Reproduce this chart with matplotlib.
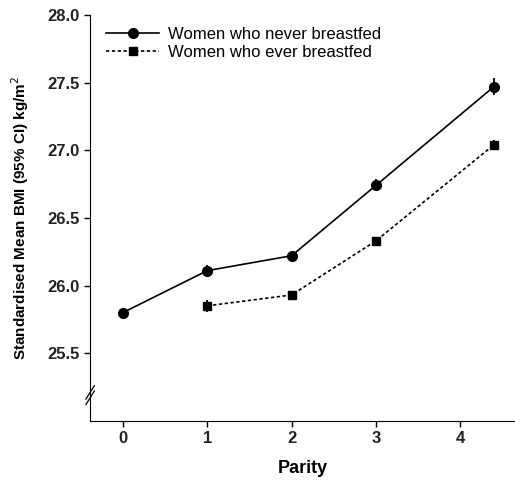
import numpy as np
from matplotlib import pyplot as plt
from matplotlib.lines import Line2D

plt.rcParams['font.family'] = ['Liberation Sans', 'DejaVu Sans']

# parity positions (last group is 4+ plotted at 4.4)
x_never = [0, 1, 2, 3, 4.4]
bmi_never = [25.80, 26.11, 26.22, 26.74, 27.47]
err_never = [0.01, 0.04, 0.02, 0.045, 0.065]

x_ever = [1, 2, 3, 4.4]
bmi_ever = [25.85, 25.93, 26.33, 27.04]
err_ever = [0.045, 0.02, 0.02, 0.035]

xticks = [0, 1, 2, 3, 4]
yticks = [25.5, 26.0, 26.5, 27.0, 27.5, 28.0]

dash = (0, (2, 1.5))

fig = plt.figure(figsize=(5.15, 4.82), dpi=100)
ax = fig.add_axes([0.175, 0.127, 0.825, 0.842])

ax.errorbar(x_never, bmi_never, yerr=err_never, color='black', marker='o',
            markersize=7, linestyle='-', linewidth=1.2, elinewidth=1.3,
            capsize=0)
ax.errorbar(x_ever, bmi_ever, yerr=err_ever, color='black', marker='s',
            markersize=5.5, linestyle=dash, linewidth=1.2,
            elinewidth=1.3, capsize=0)

ax.set_xlim(-0.39, 4.65)
ax.set_ylim(25.0, 28.0)
ax.set_xticks(xticks)
ax.set_yticks(yticks)
ax.set_yticklabels(['%.1f' % v for v in yticks])
ax.tick_params(labelsize=12, length=4, width=1, direction='out')
for lab in ax.get_xticklabels() + ax.get_yticklabels():
    lab.set_fontweight('bold')
    lab.set_color('#222222')

ax.spines['top'].set_visible(False)
ax.spines['right'].set_visible(False)

# axis break marks
ax.plot([-0.44, -0.34], [25.12, 25.22], color='black', lw=0.9, clip_on=False)
ax.plot([-0.44, -0.34], [25.16, 25.26], color='black', lw=0.9, clip_on=False)

ax.set_xlabel('Parity', fontsize=13, fontweight='bold', labelpad=10)
ax.set_ylabel('Standardised Mean BMI (95% CI) kg/m$^2$', fontsize=11,
              fontweight='bold', labelpad=12)

handles = [
    Line2D([], [], color='black', marker='o', markersize=7, linewidth=1.2),
    Line2D([], [], color='black', marker='s', markersize=5.5, linewidth=1.2,
           linestyle=dash),
]
labels = ['Women who never breastfed', 'Women who ever breastfed']
ax.legend(handles, labels, loc='upper left', bbox_to_anchor=(0.01, 1.0),
          frameon=False, fontsize=12, handlelength=3.2, handletextpad=0.5,
          labelspacing=0.2, borderaxespad=0.3)

fig.savefig('out.png', dpi=100)
